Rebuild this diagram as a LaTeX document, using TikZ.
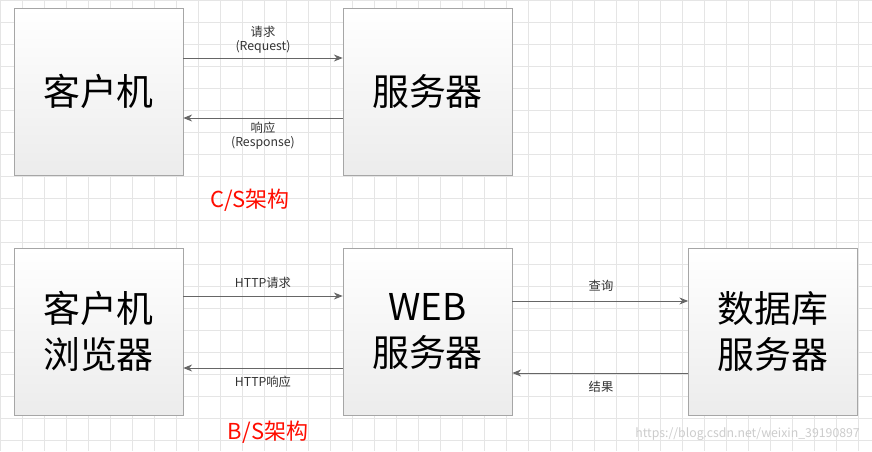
\documentclass[tikz,border=0pt]{standalone}
\usepackage{fontspec}
\setmainfont{Noto Sans CJK SC}
\usetikzlibrary{arrows.meta}
\begin{document}
\begin{tikzpicture}[x=0.02cm,y=-0.02cm,
  box/.style={draw=gray!70,top color=white,bottom color=gray!15,minimum width=3.38cm,minimum height=3.34cm,inner sep=0pt,font=\fontsize{21}{26}\selectfont,align=center},
  lbl/.style={font=\fontsize{7}{8}\selectfont,text=black!80,inner sep=1pt},
  arr/.style={draw=gray!80!black,-{Stealth[length=5pt,width=4pt]},line width=0.5pt}]
\useasboundingbox (0,0) rectangle (872,451);
\fill[white] (0,0) rectangle (872,451);
\foreach \i in {0,22,...,880} \draw[gray!20,line width=0.4pt] (\i,0) -- (\i,451);
\foreach \j in {0,22,...,451} \draw[gray!20,line width=0.4pt] (0,\j) -- (872,\j);
\node[box] (c1) at (98.5,91.5) {客户机};
\node[box] (s1) at (427.5,91.5) {服务器};
\node[box] (c2) at (98.5,331.5) {客户机\\浏览器};
\node[box] (s2) at (427.5,331.5) {WEB\\服务器};
\node[box] (d2) at (773,331.5) {数据库\\服务器};
\coordinate (a1) at (0,58); \coordinate (a2) at (0,118);
\draw[arr] (c1.east|-a1) -- (s1.west|-a1);
\draw[arr] (s1.west|-a2) -- (c1.east|-a2);
\node[lbl,align=center] (rq) at (263,40) {请求\\(Request)};
\node[lbl,align=center] (rs) at (263,136) {响应\\(Response)};
\coordinate (b1) at (0,296); \coordinate (b2) at (0,368);
\draw[arr] (c2.east|-b1) -- (s2.west|-b1);
\draw[arr] (s2.west|-b2) -- (c2.east|-b2);
\node[lbl] (hq) at (263,283) {HTTP请求};
\node[lbl] (hr) at (263,382) {HTTP响应};
\coordinate (e1) at (0,301); \coordinate (e2) at (0,373);
\draw[arr] (s2.east|-e1) -- (d2.west|-e1);
\draw[arr] (d2.west|-e2) -- (s2.east|-e2);
\node[lbl] (cx) at (601,286) {查询};
\node[lbl] (jg) at (601,387) {结果};
\node[text=red!90!orange,font=\fontsize{12.5}{14}\selectfont] (cs) at (250,200) {C/S架构};
\node[text=red!90!orange,font=\fontsize{12.5}{14}\selectfont] (bs) at (268,432) {B/S架构};
\node[text=gray!40,font=\fontsize{7}{8}\selectfont,anchor=east] (wm) at (866,434) {https://blog.csdn.net/weixin\_39190897};
\end{tikzpicture}
\end{document}
